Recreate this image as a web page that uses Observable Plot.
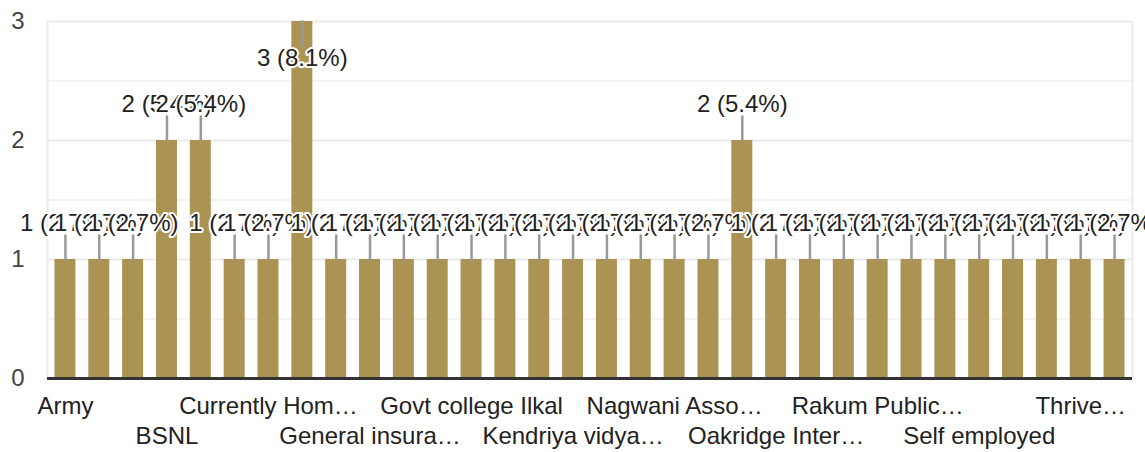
<!DOCTYPE html>
<html><head><meta charset="utf-8">
<script src="https://cdn.jsdelivr.net/npm/d3@7"></script>
<script src="https://cdn.jsdelivr.net/npm/@observablehq/plot@0.6"></script>
<style>html,body{margin:0;padding:0;background:#fff;overflow:hidden}</style>
</head><body><div id="chart"></div>
<script>
const categories = [
  "Army", "Axis Bank", "Bank of Baroda", "BSNL", "Business", "Canara Bank",
  "Currently Homemaker", "Doctor", "Engineer", "General insurance company", "Government of Karnataka", "Government School",
  "Govt college Ilkal", "Homemaker", "Infosys", "Kendriya vidyalaya", "KPTCL", "Lecturer",
  "Nagwani Associates", "NHAI", "None", "Oakridge International School", "Private company", "Professor",
  "Rakum Public School", "Railways", "SBI", "Self employed", "Software engineer", "Teacher",
  "Thrive Solutions", "Wipro"
];
const counts = [
  1, 1, 1, 2, 2, 1,
  1, 3, 1, 1, 1, 1,
  1, 1, 1, 1, 1, 1,
  1, 1, 2, 1, 1, 1,
  1, 1, 1, 1, 1, 1,
  1, 1
];
const tickLabels = [
  "Army", "BSNL", "Currently Hom…", "General insura…", "Govt college Ilkal", "Kendriya vidya…",
  "Nagwani Asso…", "Oakridge Inter…", "Rakum Public…", "Self employed", "Thrive…"
];
const yTicks = [0, 1, 2, 3];
const yMinorTicks = [0.5, 1.5, 2.5];

const total = d3.sum(counts);
const yMax = d3.max(yTicks);
const data = categories.map((c, i) => ({
  category: c,
  count: counts[i],
  label: `${counts[i]} (${(counts[i] / total * 100).toFixed(1)}%)`
}));
const row1 = categories.filter((d, i) => i % 6 === 0);
const row2 = categories.filter((d, i) => i % 6 === 3);
const fmt = d => tickLabels[categories.indexOf(d) / 3];
const fontFamily = '"Liberation Sans", Arial, sans-serif';
const leader = {draw(ctx, l) { ctx.moveTo(0, 0); ctx.lineTo(0, -l); }};

const chart = Plot.plot({
  width: 1145, height: 452,
  marginLeft: 47, marginRight: 13, marginTop: 21, marginBottom: 74,
  style: {fontFamily, fontSize: "24px", background: "#fff", overflow: "visible"},
  x: {domain: categories, paddingInner: 0.38, paddingOuter: 0.22, round: false, label: null},
  y: {domain: [0, yMax], label: null},
  marks: [
    Plot.gridY(yMinorTicks, {stroke: "#f4f4f4", strokeOpacity: 1, strokeWidth: 2}),
    Plot.gridY(yTicks.filter(d => d > 0), {stroke: "#ebebeb", strokeOpacity: 1, strokeWidth: 2}),
    Plot.frame({anchor: "left", stroke: "#ebebeb", strokeWidth: 2}),
    Plot.frame({anchor: "right", stroke: "#ebebeb", strokeWidth: 2}),
    Plot.barY(data, {x: "category", y: "count", fill: "#ab9354"}),
    Plot.ruleY([0], {stroke: "#333", strokeWidth: 3}),
    Plot.axisY({ticks: yTicks, tickFormat: d3.format("d"), tickSize: 0, tickPadding: 23, fill: "#444", fontSize: 24, label: null}),
    Plot.axisX({ticks: row1, tickFormat: fmt, tickSize: 0, tickPadding: 18, fill: "#222", fontSize: 24, label: null}),
    Plot.axisX({ticks: row2, tickFormat: fmt, tickSize: 0, tickPadding: 48, fill: "#222", fontSize: 24, label: null}),
    Plot.vector(data, {x: "category", y: "count", length: 24, rotate: d => d.count === yMax ? 180 : 0,
      anchor: "start", shape: leader, stroke: "#999", strokeWidth: 2.5}),
    Plot.text(data.filter(d => d.count < yMax), {x: "category", y: "count", text: "label", dy: -36,
      fill: "#222", stroke: "white", strokeWidth: 4, fontSize: 24}),
    Plot.text(data.filter(d => d.count === yMax), {x: "category", y: "count", text: "label", dy: 37,
      fill: "#222", stroke: "white", strokeWidth: 4, fontSize: 24})
  ]
});
document.getElementById("chart").appendChild(chart);
</script>
</body></html>
